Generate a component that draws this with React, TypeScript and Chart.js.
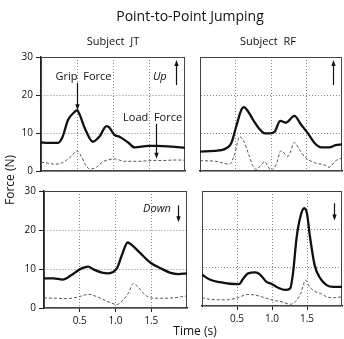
import React, { useEffect, useRef } from 'react';
import { Chart, registerables } from 'chart.js';

Chart.register(...registerables);

const W = 344;
const H = 339;
const FONT = '"Open Sans", "DejaVu Sans", sans-serif';

// ---- Titles / labels ----
const mainTitle = 'Point-to-Point Jumping';
const subjectTitles = ['Subject  JT', 'Subject  RF'];
const yAxisTitle = 'Force (N)';
const xAxisTitle = 'Time (s)';
const xTickValues = [0.5, 1.0, 1.5];
const yTickValuesLabeled = [0, 10, 20, 30];
const yGridValues = [10, 20];

// ---- Subject JT, Up ----
const jtUpGripTime = [0, 0.1, 0.24, 0.3, 0.375, 0.47, 0.5, 0.54, 0.61, 0.72, 0.81, 0.91, 0.95, 1.02, 1.09, 1.21, 1.3, 1.49, 1.62, 1.81, 2.0];
const jtUpGripForce = [7.5, 7.4, 7.4, 9.0, 13.4, 15.6, 16.0, 14.7, 11.2, 7.7, 9.0, 11.8, 11.4, 9.5, 9.0, 7.5, 6.2, 6.6, 6.6, 6.4, 6.1];
const jtUpLoadTime = [0, 0.05, 0.19, 0.3, 0.42, 0.5, 0.56, 0.63, 0.68, 0.77, 0.86, 0.93, 1.02, 1.16, 1.35, 1.49, 1.67, 1.9, 2.0];
const jtUpLoadForce = [2.3, 2.2, 1.8, 2.2, 3.9, 5.3, 3.8, 1.3, 0.5, 1.0, 2.45, 2.9, 3.2, 2.55, 2.55, 2.7, 2.75, 2.9, 2.8];

// ---- Subject RF, Up ----
const rfUpGripTime = [0, 0.2, 0.37, 0.44, 0.51, 0.58, 0.62, 0.68, 0.75, 0.84, 0.91, 0.98, 1.05, 1.13, 1.21, 1.33, 1.42, 1.52, 1.61, 1.71, 1.82, 1.91, 2.0];
const rfUpGripForce = [5.1, 5.3, 6.0, 7.3, 11.7, 16.0, 16.8, 15.6, 13.4, 11.0, 9.9, 9.9, 10.3, 13.2, 12.7, 14.5, 12.3, 9.9, 7.45, 6.2, 6.2, 6.8, 7.0];
const rfUpLoadTime = [0, 0.2, 0.42, 0.49, 0.56, 0.61, 0.68, 0.75, 0.79, 0.86, 0.91, 0.96, 1.0, 1.07, 1.14, 1.24, 1.33, 1.4, 1.47, 1.61, 1.75, 1.82, 1.91, 2.0];
const rfUpLoadForce = [2.7, 2.6, 1.8, 4.6, 9.0, 8.1, 4.7, 1.1, 0.4, 1.6, 2.45, 1.1, 0.2, 1.6, 5.3, 3.9, 7.5, 5.7, 3.8, 2.2, 1.6, 1.0, 2.7, 3.4];

// ---- Subject JT, Down ----
const jtDownGripTime = [0, 0.13, 0.26, 0.38, 0.5, 0.62, 0.69, 0.81, 0.9, 1.02, 1.09, 1.17, 1.23, 1.35, 1.49, 1.63, 1.77, 1.88, 2.0];
const jtDownGripForce = [7.6, 7.6, 7.3, 8.4, 9.9, 10.6, 9.9, 9.1, 8.9, 10.2, 13.6, 16.8, 16.1, 14.0, 11.6, 10.2, 9.0, 8.7, 8.9];
const jtDownLoadTime = [0, 0.17, 0.31, 0.47, 0.62, 0.74, 0.86, 0.95, 1.02, 1.09, 1.18, 1.25, 1.3, 1.39, 1.49, 1.63, 1.81, 2.0];
const jtDownLoadForce = [2.6, 2.5, 2.4, 2.8, 3.5, 2.9, 1.9, 1.2, 0.9, 1.8, 3.8, 6.3, 5.7, 3.8, 2.6, 2.5, 2.6, 3.1];

// ---- Subject RF, Down ----
const rfDownGripTime = [0, 0.11, 0.26, 0.4, 0.53, 0.59, 0.66, 0.76, 0.83, 0.92, 0.99, 1.09, 1.19, 1.26, 1.3, 1.35, 1.41, 1.46, 1.5, 1.54, 1.61, 1.69, 1.78, 1.88, 2.0];
const rfDownGripForce = [8.2, 6.9, 6.2, 5.8, 5.7, 7.2, 8.5, 8.75, 8.2, 6.3, 5.8, 4.75, 4.2, 4.6, 8.5, 17.6, 23.6, 25.5, 24.1, 18.4, 10.6, 7.2, 5.45, 5.0, 5.0];
const rfDownLoadTime = [0, 0.11, 0.35, 0.52, 0.64, 0.76, 0.88, 0.99, 1.14, 1.26, 1.33, 1.41, 1.48, 1.52, 1.6, 1.69, 1.78, 1.88, 2.0];
const rfDownLoadForce = [2.2, 1.75, 1.6, 2.2, 3.0, 2.85, 2.25, 1.6, 1.1, 0.45, 1.1, 3.3, 6.75, 5.45, 3.9, 3.3, 2.4, 2.15, 2.4];

type Note =
  | { kind: 'text'; x: number; y: number; text: string; italic?: boolean }
  | { kind: 'arrow'; x: number; from: number; to: number };

type Panel = {
  gripT: number[];
  gripF: number[];
  loadT: number[];
  loadF: number[];
  area: { l: number; r: number; t: number; b: number };
  yLabels: boolean;
  xLabels: boolean;
  notes: Note[];
  globalText?: boolean;
};

const panels: Panel[] = [
  {
    gripT: jtUpGripTime, gripF: jtUpGripForce, loadT: jtUpLoadTime, loadF: jtUpLoadForce,
    area: { l: 41, r: 185, t: 57, b: 171 }, yLabels: true, xLabels: false, globalText: true,
    notes: [
      { kind: 'text', x: 0.59, y: 24.7, text: 'Grip  Force' },
      { kind: 'arrow', x: 0.5, from: 23.2, to: 16.0 },
      { kind: 'text', x: 1.55, y: 13.9, text: 'Load  Force' },
      { kind: 'arrow', x: 1.6, from: 12.4, to: 3.2 },
      { kind: 'text', x: 1.65, y: 24.7, text: 'Up', italic: true },
      { kind: 'arrow', x: 1.875, from: 22.6, to: 29.2 },
    ],
  },
  {
    gripT: rfUpGripTime, gripF: rfUpGripForce, loadT: rfUpLoadTime, loadF: rfUpLoadForce,
    area: { l: 200, r: 342, t: 57, b: 171 }, yLabels: false, xLabels: false,
    notes: [{ kind: 'arrow', x: 1.87, from: 22.6, to: 29.2 }],
  },
  {
    gripT: jtDownGripTime, gripF: jtDownGripForce, loadT: jtDownLoadTime, loadF: jtDownLoadForce,
    area: { l: 44, r: 187, t: 191, b: 308 }, yLabels: true, xLabels: true,
    notes: [
      { kind: 'text', x: 1.58, y: 25.3, text: 'Down', italic: true },
      { kind: 'arrow', x: 1.87, from: 26.3, to: 22.0 },
    ],
  },
  {
    gripT: rfDownGripTime, gripF: rfDownGripForce, loadT: rfDownLoadTime, loadF: rfDownLoadForce,
    area: { l: 202, r: 342, t: 191, b: 306 }, yLabels: false, xLabels: true,
    notes: [{ kind: 'arrow', x: 1.89, from: 26.8, to: 22.3 }],
  },
];

const Y_GUTTER = 30;
const X_GUTTER = 20;

const pts = (t: number[], f: number[]) => t.map((x, i) => ({ x, y: f[i] }));

const framePlugin = {
  id: 'frame',
  beforeDatasetsDraw(chart: any) {
    const { ctx, chartArea: a } = chart;
    ctx.save();
    ctx.strokeStyle = '#444';
    ctx.lineWidth = 1;
    ctx.strokeRect(a.left + 0.5, a.top + 0.5, a.right - a.left - 1, a.bottom - a.top - 1);
    ctx.restore();
  },
};

const makeNotesPlugin = (notes: Note[], globalText: boolean) => ({
  id: 'notes',
  afterDraw(chart: any) {
    const { ctx } = chart;
    const xs = chart.scales.x;
    const ys = chart.scales.y;
    ctx.save();
    ctx.fillStyle = '#111';
    ctx.strokeStyle = '#111';
    notes.forEach((n) => {
      if (n.kind === 'text') {
        ctx.font = `${n.italic ? 'italic ' : ''}11px ${FONT}`;
        ctx.textAlign = 'center';
        ctx.textBaseline = 'middle';
        ctx.fillText(n.text, xs.getPixelForValue(n.x), ys.getPixelForValue(n.y));
      } else {
        const px = Math.round(xs.getPixelForValue(n.x)) + 0.5;
        const y1 = ys.getPixelForValue(n.from);
        const y2 = ys.getPixelForValue(n.to);
        const dir = y2 > y1 ? 1 : -1;
        ctx.lineWidth = 1.2;
        ctx.beginPath();
        ctx.moveTo(px, y1);
        ctx.lineTo(px, y2 - dir * 4);
        ctx.stroke();
        ctx.beginPath();
        ctx.moveTo(px, y2);
        ctx.lineTo(px - 2.2, y2 - dir * 6);
        ctx.lineTo(px + 2.2, y2 - dir * 6);
        ctx.closePath();
        ctx.fill();
      }
    });
    if (globalText) {
      ctx.textAlign = 'center';
      ctx.textBaseline = 'middle';
      ctx.font = `14px ${FONT}`;
      ctx.fillText(mainTitle, 190, 17);
      ctx.font = `11px ${FONT}`;
      ctx.fillText(subjectTitles[0], 113, 42);
      ctx.fillText(subjectTitles[1], 268, 42);
      ctx.font = `12px ${FONT}`;
      ctx.fillText(xAxisTitle, 195, 332);
      ctx.save();
      ctx.translate(11, 180);
      ctx.rotate(-Math.PI / 2);
      ctx.fillText(yAxisTitle, 0, 0);
      ctx.restore();
    }
    ctx.restore();
  },
});

function PanelChart({ panel }: { panel: Panel }) {
  const ref = useRef<HTMLCanvasElement | null>(null);
  useEffect(() => {
    if (!ref.current) return;
    const a = panel.area;
    const yW = panel.yLabels ? Y_GUTTER : 0;
    const xH = panel.xLabels ? X_GUTTER : 0;
    const fixFit = (s: any, vertical: boolean) => {
      if (vertical) s.width = yW;
      else s.height = xH;
      s.paddingLeft = 0;
      s.paddingRight = 0;
      s.paddingTop = 0;
      s.paddingBottom = 0;
    };
    const chart = new Chart(ref.current, {
      type: 'line',
      data: {
        datasets: [
          {
            data: pts(panel.gripT, panel.gripF),
            borderColor: '#111',
            borderWidth: 2.3,
            pointRadius: 0,
            cubicInterpolationMode: 'monotone',
            fill: false,
          },
          {
            data: pts(panel.loadT, panel.loadF),
            borderColor: '#555',
            borderWidth: 1,
            borderDash: [3, 2],
            pointRadius: 0,
            cubicInterpolationMode: 'monotone',
            fill: false,
          },
        ],
      },
      options: {
        animation: false,
        responsive: false,
        events: [],
        layout: {
          autoPadding: false,
          padding: { left: a.l - yW, top: a.t, right: W - a.r, bottom: H - a.b - xH },
        },
        plugins: { legend: { display: false }, tooltip: { enabled: false }, title: { display: false } },
        scales: {
          x: {
            type: 'linear',
            min: 0,
            max: 2,
            afterBuildTicks: (s: any) => {
              s.ticks = xTickValues.map((v) => ({ value: v }));
            },
            afterFit: (s: any) => fixFit(s, false),
            ticks: {
              display: panel.xLabels,
              padding: 3,
              color: '#111',
              font: { family: FONT, size: 10 },
              callback: (v: any) => Number(v).toFixed(1),
            },
            grid: {
              color: '#888',
              lineWidth: 1,
              drawTicks: panel.xLabels,
              tickLength: 4,
              tickColor: '#222',
            },
            border: { display: true, color: '#222', width: 1.4, dash: [1, 2] },
          },
          y: {
            type: 'linear',
            min: 0,
            max: 30,
            afterBuildTicks: (s: any) => {
              s.ticks = (panel.yLabels ? yTickValuesLabeled : yGridValues).map((v) => ({ value: v }));
            },
            afterFit: (s: any) => fixFit(s, true),
            ticks: {
              display: panel.yLabels,
              padding: 3,
              color: '#111',
              font: { family: FONT, size: 10 },
            },
            grid: {
              color: '#888',
              lineWidth: 1,
              drawTicks: panel.yLabels,
              tickLength: 5,
              tickColor: '#222',
            },
            border: { display: true, color: '#222', width: panel.yLabels ? 1.4 : 1, dash: [1, 2] },
          },
        },
      } as any,
      plugins: [framePlugin, makeNotesPlugin(panel.notes, !!panel.globalText)],
    });
    return () => chart.destroy();
  }, [panel]);
  return (
    <canvas
      ref={ref}
      width={W}
      height={H}
      style={{ position: 'absolute', left: 0, top: 0, width: W, height: H }}
    />
  );
}

export default function App() {
  return (
    <div
      style={{
        position: 'fixed',
        left: 0,
        top: 0,
        width: W,
        height: H,
        background: '#fff',
        overflow: 'hidden',
      }}
    >
      {panels.map((p, i) => (
        <PanelChart key={i} panel={p} />
      ))}
    </div>
  );
}
